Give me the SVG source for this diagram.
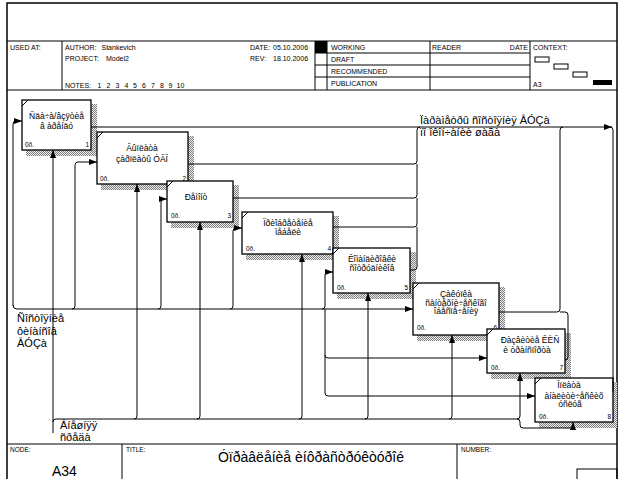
<svg xmlns="http://www.w3.org/2000/svg" width="626" height="479" viewBox="0 0 626 479">
<defs>
<style>
text{font-family:"Liberation Sans",Arial,sans-serif;fill:#000}
.fr{fill:none;stroke:#000;stroke-width:1.5}
.hl{fill:none;stroke:#000;stroke-width:1}
.h{font-size:7px}
.bx{fill:#fff;stroke:#000;stroke-width:1.3}
.sh{fill:url(#hatch)}
.bt{font-size:8.5px;text-anchor:middle}
.bs{font-size:6.5px}
.bn{font-size:6.5px;text-anchor:end}
.c{fill:none;stroke:#000;stroke-width:1}
.a{marker-end:url(#ah)}
.lb{font-size:11px}
</style>
<pattern id="hatch" width="2" height="2" patternUnits="userSpaceOnUse">
<rect width="2" height="2" fill="#ebebeb"/>
<rect width="1" height="1" fill="#808080"/>
<rect x="1" y="1" width="1" height="1" fill="#808080"/>
</pattern>
<marker id="ah" markerWidth="8" markerHeight="6" refX="8" refY="3" orient="auto" markerUnits="userSpaceOnUse">
<path d="M0,0 L8,3 L0,6 z" fill="#000"/>
</marker>
</defs>
<rect width="626" height="479" fill="#fff"/>

<g id="frame">
<rect class="fr" x="7" y="3" width="610" height="480"/>
<line class="hl" x1="7" y1="41" x2="617" y2="41"/>
<line class="hl" x1="7" y1="90" x2="617" y2="90"/>
<line class="hl" x1="62" y1="41" x2="62" y2="90"/>
<line class="hl" x1="315" y1="41" x2="315" y2="90"/>
<line class="hl" x1="327" y1="41" x2="327" y2="90"/>
<line class="hl" x1="430" y1="41" x2="430" y2="90"/>
<line class="hl" x1="530" y1="41" x2="530" y2="90"/>
<line class="hl" x1="315" y1="53" x2="530" y2="53"/>
<line class="hl" x1="315" y1="65" x2="530" y2="65"/>
<line class="hl" x1="315" y1="77" x2="530" y2="77"/>
<rect x="315" y="41" width="12" height="12" fill="#000"/>
<text class="h" x="10" y="50">USED AT:</text>
<text class="h" y="50"><tspan x="65">AUTHOR:</tspan><tspan x="101.5">Stankevich</tspan></text>
<text class="h" y="61"><tspan x="65">PROJECT:</tspan><tspan x="106">Model2</tspan></text>
<text class="h" y="88"><tspan x="65">NOTES:</tspan><tspan x="97.5">1</tspan><tspan x="106.5">2</tspan><tspan x="115.5">3</tspan><tspan x="124.5">4</tspan><tspan x="133">5</tspan><tspan x="142">6</tspan><tspan x="151">7</tspan><tspan x="160">8</tspan><tspan x="168.5">9</tspan><tspan x="176.5">10</tspan></text>
<text class="h" y="50"><tspan x="250">DATE:</tspan><tspan x="273">05.10.2006</tspan></text>
<text class="h" y="61"><tspan x="250">REV:</tspan><tspan x="273">18.10.2006</tspan></text>
<text class="h" x="331" y="50">WORKING</text>
<text class="h" x="331" y="62">DRAFT</text>
<text class="h" x="331" y="74">RECOMMENDED</text>
<text class="h" x="331" y="86">PUBLICATION</text>
<text class="h" x="432" y="50">READER</text>
<text class="h" x="528" y="50" text-anchor="end">DATE</text>
<text class="h" x="533" y="50">CONTEXT:</text>
<text class="h" x="533" y="87">A3</text>
<rect class="hl" x="535" y="57" width="14" height="5"/>
<rect class="hl" x="554" y="64" width="14" height="5"/>
<rect class="hl" x="573" y="72" width="14" height="5"/>
<rect x="593" y="80" width="19" height="5" fill="#000"/>
<line class="hl" x1="7" y1="444" x2="617" y2="444"/>
<line class="hl" x1="122" y1="444" x2="122" y2="479"/>
<line class="hl" x1="457" y1="444" x2="457" y2="479"/>
<rect class="hl" x="577" y="469" width="40" height="12"/>
<text class="bs" x="10" y="452">NODE:</text>
<text class="bs" x="126" y="452">TITLE:</text>
<text class="bs" x="461" y="452">NUMBER:</text>
<text x="52" y="476" font-size="14">A34</text>
<text x="311" y="462" font-size="14" text-anchor="middle">Óïðàâëåíèå èíôðàñòðóêòóðîé</text>
</g>

<g id="box1">
<rect class="sh" x="26" y="104" width="71" height="52"/>
<rect class="bx" x="22" y="100" width="69" height="50"/>
<line class="hl" x1="22" y1="106" x2="28" y2="100"/>
<text class="bt" x="56.5" y="119">Ñäà÷à/âçÿòèå</text>
<text class="bt" x="56.5" y="129">â àðåíäó</text>
<text class="bs" x="25" y="147">0ð.</text>
<text class="bn" x="89" y="147">1</text>
</g>
<g id="box2">
<rect class="sh" x="101" y="136" width="93" height="54"/>
<rect class="bx" x="97" y="132" width="91" height="52"/>
<line class="hl" x1="97" y1="138" x2="103" y2="132"/>
<text class="bt" x="142" y="151">Âûïëàòà</text>
<text class="bt" x="142" y="162">çàðïëàòû ÓÂÏ</text>
<text class="bs" x="100" y="181">0ð.</text>
<text class="bn" x="186" y="181">2</text>
</g>
<g id="box3">
<rect class="sh" x="171" y="185" width="68" height="43"/>
<rect class="bx" x="167" y="181" width="66" height="41"/>
<line class="hl" x1="167" y1="187" x2="173" y2="181"/>
<text class="bt" x="196" y="200">Ðåìîíò</text>
<text class="bs" x="171" y="218">0ð.</text>
<text class="bn" x="231" y="218">3</text>
</g>
<g id="box4">
<rect class="sh" x="246" y="216" width="93" height="44"/>
<rect class="bx" x="242" y="212" width="91" height="42"/>
<line class="hl" x1="242" y1="218" x2="248" y2="212"/>
<text class="bt" x="288" y="226">Ïðèîáðåòåíèå</text>
<text class="bt" x="288" y="235">ìåáåëè</text>
<text class="bs" x="246" y="251">0ð.</text>
<text class="bn" x="331" y="251">4</text>
</g>
<g id="box5">
<rect class="sh" x="337" y="252" width="79" height="47"/>
<rect class="bx" x="333" y="248" width="77" height="45"/>
<line class="hl" x1="333" y1="254" x2="339" y2="248"/>
<text class="bt" x="372" y="262">Êîìàíäèðîâêè</text>
<text class="bt" x="372" y="271">ñîòðóäíèêîâ</text>
<text class="bs" x="337" y="290">0ð.</text>
<text class="bn" x="408" y="290">5</text>
</g>
<g id="box6">
<rect class="sh" x="417" y="287" width="88" height="54"/>
<rect class="bx" x="413" y="283" width="86" height="52"/>
<line class="hl" x1="413" y1="289" x2="419" y2="283"/>
<text class="bt" x="456" y="297">Çàêóïêà</text>
<text class="bt" x="456" y="305.5">ñàíòåõíè÷åñêîãî</text>
<text class="bt" x="456" y="314">îáåñïå÷åíèÿ</text>
<text class="bs" x="417" y="330">0ð.</text>
<text class="bn" x="497" y="330">6</text>
</g>
<g id="box7">
<rect class="sh" x="491" y="333" width="80" height="46"/>
<rect class="bx" x="487" y="329" width="78" height="44"/>
<line class="hl" x1="487" y1="335" x2="493" y2="329"/>
<text class="bt" x="530" y="343">Ðàçâèòèå ÊÈÑ</text>
<text class="bt" x="527" y="353">è òðàíñïîðòà</text>
<text class="bs" x="491" y="370">0ð.</text>
<text class="bn" x="563" y="370">7</text>
</g>
<g id="box8">
<rect class="sh" x="539" y="382" width="78" height="46"/>
<rect class="bx" x="535" y="378" width="78" height="44"/>
<line class="hl" x1="535" y1="384" x2="541" y2="378"/>
<text class="bt" x="569" y="388">Îïëàòà</text>
<text class="bt" x="574" y="398.5">àíàëèòè÷åñêèõ</text>
<text class="bt" x="570" y="407">óñëóã</text>
<text class="bs" x="539" y="419">0ð.</text>
<text class="bn" x="611" y="419">8</text>
</g>

<g id="connectors">
<path class="c a" d="M13,306 L13,124 Q13,121 16,121 L22,121"/>
<path class="c a" d="M13,305 Q13,309 17,309 L413,309"/>
<path class="c a" d="M72,309 Q75,309 75,306 L75,165 Q75,162 78,162 L97,162"/>
<path class="c a" d="M158,309 Q161,309 161,306 L161,202 Q161,199 164,199 L167,199"/>
<path class="c a" d="M230,309 Q233,309 233,306 L233,231 Q233,228 236,228 L242,228"/>
<path class="c a" d="M322,309 Q325,309 325,306 L325,275 Q325,272 328,272 L333,272"/>
<path class="c a" d="M325,309 L325,355 Q325,358 328,358 L487,358"/>
<path class="c a" d="M325,355 L325,393 Q325,396 328,396 L535,396"/>

<path class="c a" d="M53,433 L53,150"/>
<path class="c a" d="M53,422 Q53,419 56,419 L517,419 Q520,419 520,422 L520,425 Q520,428 523,428 L570,428 Q573,428 573,425 L573,422"/>
<path class="c a" d="M134,419 Q137,419 137,416 L137,184"/>
<path class="c a" d="M197,419 Q200,419 200,416 L200,222"/>
<path class="c a" d="M299,419 Q302,419 302,416 L302,254"/>
<path class="c a" d="M365,419 Q368,419 368,416 L368,293"/>
<path class="c a" d="M449,419 Q452,419 452,416 L452,335"/>
<path class="c a" d="M517,419 Q520,419 520,416 L520,373"/>

<path class="c a" d="M91,127 L612,127"/>
<path class="c" d="M188,164 L414,164 Q417,164 417,161 L417,130 Q417,127 420,127"/>
<path class="c" d="M233,198 L414,198 Q417,198 417,195 L417,164"/>
<path class="c" d="M333,227 L414,227 Q417,227 417,224 L417,198"/>
<path class="c" d="M410,270 L414,270 Q417,270 417,267 L417,227"/>
<path class="c" d="M499,312 L557,312 Q560,312 560,309 L560,130 Q560,127 563,127"/>
<path class="c" d="M565,360 Q568,360 568,357 L568,315 Q568,312 565,312 L560,312"/>
<path class="c" d="M613,392 L613,130 Q613,127 610,127"/>
</g>

<g id="labels">
<text class="lb" x="420" y="124">Ïàðàìåòðû ñîñòîÿíèÿ ÂÓÇà</text>
<text class="lb" x="420" y="136">ïî îêîí÷àíèè øàãà</text>
<text class="lb" x="17" y="322">Ñîñòîÿíèå</text>
<text class="lb" x="17" y="334.5">ôèíàíñîâ</text>
<text class="lb" x="17" y="347">ÂÓÇà</text>
<text class="lb" x="60" y="429">Âíåøíÿÿ</text>
<text class="lb" x="60" y="441">ñðåäà</text>
</g>
</svg>
